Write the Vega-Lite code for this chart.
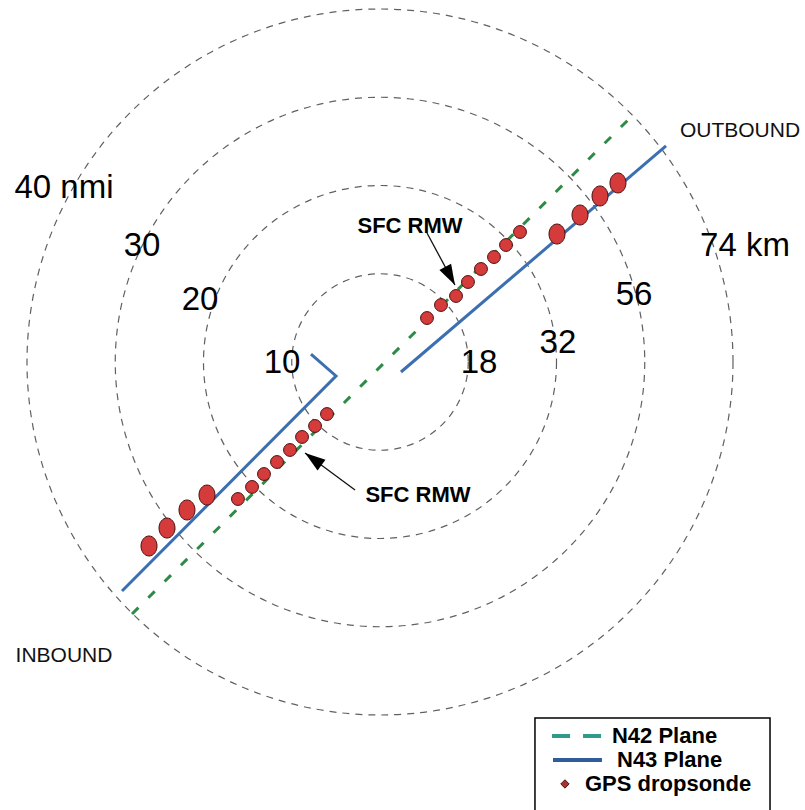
{
  "$schema": "https://vega.github.io/schema/vega-lite/v6.json",
  "width": 805,
  "height": 810,
  "autosize": {"type": "fit", "contains": "padding"},
  "padding": 0,
  "background": "white",
  "config": {"view": {"stroke": null}},
  "resolve": {"scale": {"size": "independent", "angle": "independent"}},
  "layer": [
    {
      "data": {"values": [{"x": 0, "y": 0, "r": 10}, {"x": 0, "y": 0, "r": 20}, {"x": 0, "y": 0, "r": 30}, {"x": 0, "y": 0, "r": 40}]},
      "mark": {"type": "point", "shape": "circle", "filled": false, "color": "#606060", "strokeWidth": 1.2, "strokeDash": [7, 6], "opacity": 1},
      "encoding": {
        "x": {"field": "x", "type": "quantitative", "scale": {"domain": [-42.938, 48.023], "nice": false, "zero": false}, "axis": null},
        "y": {"field": "y", "type": "quantitative", "scale": {"domain": [-50.621, 40.904], "nice": false, "zero": false}, "axis": null},
        "size": {"field": "r", "type": "quantitative", "scale": {"type": "pow", "exponent": 2, "domain": [0, 40], "range": [0, 498436]}, "legend": null}
      }
    },
    {
      "data": {"values": [{"x": -28.02, "y": -28.47, "x2": 28.14, "y2": 27.46}]},
      "mark": {"type": "rule", "color": "#2e8b45", "strokeWidth": 3, "strokeDash": [9, 14]},
      "encoding": {
        "x": {"field": "x", "type": "quantitative", "scale": {"domain": [-42.938, 48.023], "nice": false, "zero": false}, "axis": null},
        "y": {"field": "y", "type": "quantitative", "scale": {"domain": [-50.621, 40.904], "nice": false, "zero": false}, "axis": null},
        "x2": {"field": "x2"},
        "y2": {"field": "y2"}
      }
    },
    {
      "data": {"values": [
        {"seg": "inbound", "i": 1, "x": -7.8, "y": 0.9},
        {"seg": "inbound", "i": 2, "x": -4.97, "y": -1.58},
        {"seg": "inbound", "i": 3, "x": -29.15, "y": -25.88},
        {"seg": "outbound", "i": 1, "x": 2.37, "y": -1.13},
        {"seg": "outbound", "i": 2, "x": 32.32, "y": 24.41}
      ]},
      "mark": {"type": "line", "color": "#3b6fb0", "strokeWidth": 3},
      "encoding": {
        "x": {"field": "x", "type": "quantitative", "scale": {"domain": [-42.938, 48.023], "nice": false, "zero": false}, "axis": null},
        "y": {"field": "y", "type": "quantitative", "scale": {"domain": [-50.621, 40.904], "nice": false, "zero": false}, "axis": null},
        "detail": {"field": "seg"},
        "order": {"field": "i", "type": "quantitative"}
      }
    },
    {
      "data": {"name": "sondes", "values": [
        {"leg": "outbound", "set": "small", "x": 5.31, "y": 4.97},
        {"leg": "outbound", "set": "small", "x": 6.89, "y": 6.44},
        {"leg": "outbound", "set": "small", "x": 8.59, "y": 7.46},
        {"leg": "outbound", "set": "small", "x": 9.94, "y": 9.04},
        {"leg": "outbound", "set": "small", "x": 11.41, "y": 10.51},
        {"leg": "outbound", "set": "small", "x": 12.88, "y": 11.86},
        {"leg": "outbound", "set": "small", "x": 14.24, "y": 13.22},
        {"leg": "outbound", "set": "small", "x": 15.82, "y": 14.69},
        {"leg": "outbound", "set": "large", "x": 20.0, "y": 14.46},
        {"leg": "outbound", "set": "large", "x": 22.6, "y": 16.61},
        {"leg": "outbound", "set": "large", "x": 24.86, "y": 18.76},
        {"leg": "outbound", "set": "large", "x": 26.89, "y": 20.23},
        {"leg": "inbound", "set": "large", "x": -26.1, "y": -20.79},
        {"leg": "inbound", "set": "large", "x": -24.07, "y": -18.76},
        {"leg": "inbound", "set": "large", "x": -21.81, "y": -16.72},
        {"leg": "inbound", "set": "large", "x": -19.55, "y": -15.03},
        {"leg": "inbound", "set": "small", "x": -16.05, "y": -15.48},
        {"leg": "inbound", "set": "small", "x": -14.46, "y": -14.12},
        {"leg": "inbound", "set": "small", "x": -13.11, "y": -12.66},
        {"leg": "inbound", "set": "small", "x": -11.64, "y": -11.3},
        {"leg": "inbound", "set": "small", "x": -10.17, "y": -9.94},
        {"leg": "inbound", "set": "small", "x": -8.81, "y": -8.47},
        {"leg": "inbound", "set": "small", "x": -7.34, "y": -7.23},
        {"leg": "inbound", "set": "small", "x": -5.99, "y": -5.88}
      ]},
      "transform": [{"filter": "datum.set === 'small'"}],
      "mark": {"type": "point", "shape": "circle", "filled": true, "size": 165, "fill": "#d63b3b", "stroke": "#4a1010", "strokeWidth": 1, "opacity": 1},
      "encoding": {
        "x": {"field": "x", "type": "quantitative", "scale": {"domain": [-42.938, 48.023], "nice": false, "zero": false}, "axis": null},
        "y": {"field": "y", "type": "quantitative", "scale": {"domain": [-50.621, 40.904], "nice": false, "zero": false}, "axis": null}
      }
    },
    {
      "data": {"name": "sondes"},
      "transform": [{"filter": "datum.set === 'large'"}],
      "mark": {"type": "point", "shape": "M-0.8,0A0.8,1 0 1,0 0.8,0A0.8,1 0 1,0 -0.8,0Z", "filled": true, "size": 400, "fill": "#d63b3b", "stroke": "#4a1010", "strokeWidth": 1, "opacity": 1},
      "encoding": {
        "x": {"field": "x", "type": "quantitative", "scale": {"domain": [-42.938, 48.023], "nice": false, "zero": false}, "axis": null},
        "y": {"field": "y", "type": "quantitative", "scale": {"domain": [-50.621, 40.904], "nice": false, "zero": false}, "axis": null}
      }
    },
    {
      "data": {"name": "arrows", "values": [
        {"x": 5.31, "y": 14.58, "x2": 8.47, "y2": 8.7, "dir": 151.7},
        {"x": -2.82, "y": -14.46, "x2": -8.47, "y2": -10.28, "dir": 306.5}
      ]},
      "mark": {"type": "rule", "color": "#111111", "strokeWidth": 1.3},
      "encoding": {
        "x": {"field": "x", "type": "quantitative", "scale": {"domain": [-42.938, 48.023], "nice": false, "zero": false}, "axis": null},
        "y": {"field": "y", "type": "quantitative", "scale": {"domain": [-50.621, 40.904], "nice": false, "zero": false}, "axis": null},
        "x2": {"field": "x2"},
        "y2": {"field": "y2"}
      }
    },
    {
      "data": {"name": "arrows"},
      "mark": {"type": "point", "shape": "M0,0L0.65,2L-0.65,2Z", "filled": true, "size": 420, "color": "#000000", "opacity": 1},
      "encoding": {
        "x": {"field": "x2", "type": "quantitative", "scale": {"domain": [-42.938, 48.023], "nice": false, "zero": false}, "axis": null},
        "y": {"field": "y2", "type": "quantitative", "scale": {"domain": [-50.621, 40.904], "nice": false, "zero": false}, "axis": null},
        "angle": {"field": "dir", "type": "quantitative", "scale": {"domain": [0, 360], "range": [0, 360]}, "legend": null}
      }
    },
    {
      "data": {"values": [
        {"label": "40 nmi", "x": -35.71, "y": 19.66},
        {"label": "30", "x": -26.89, "y": 13.11},
        {"label": "20", "x": -20.34, "y": 7.01},
        {"label": "10", "x": -11.07, "y": -0.11},
        {"label": "18", "x": 11.19, "y": -0.11},
        {"label": "32", "x": 20.11, "y": 2.15},
        {"label": "56", "x": 28.7, "y": 7.57},
        {"label": "74 km", "x": 41.24, "y": 13.11}
      ]},
      "mark": {"type": "text", "font": "Liberation Sans", "fontSize": 33, "color": "#000000", "align": "center", "baseline": "middle"},
      "encoding": {
        "x": {"field": "x", "type": "quantitative", "scale": {"domain": [-42.938, 48.023], "nice": false, "zero": false}, "axis": null},
        "y": {"field": "y", "type": "quantitative", "scale": {"domain": [-50.621, 40.904], "nice": false, "zero": false}, "axis": null},
        "text": {"field": "label"}
      }
    },
    {
      "data": {"values": [
        {"label": "OUTBOUND", "x": 40.68, "y": 26.1},
        {"label": "INBOUND", "x": -35.71, "y": -33.22}
      ]},
      "mark": {"type": "text", "font": "Liberation Sans", "fontSize": 21, "color": "#111111", "align": "center", "baseline": "middle"},
      "encoding": {
        "x": {"field": "x", "type": "quantitative", "scale": {"domain": [-42.938, 48.023], "nice": false, "zero": false}, "axis": null},
        "y": {"field": "y", "type": "quantitative", "scale": {"domain": [-50.621, 40.904], "nice": false, "zero": false}, "axis": null},
        "text": {"field": "label"}
      }
    },
    {
      "data": {"values": [
        {"label": "SFC RMW", "x": 3.39, "y": 15.37},
        {"label": "SFC RMW", "x": 4.29, "y": -15.03}
      ]},
      "mark": {"type": "text", "font": "Liberation Sans", "fontSize": 22, "fontWeight": "bold", "color": "#000000", "align": "center", "baseline": "middle"},
      "encoding": {
        "x": {"field": "x", "type": "quantitative", "scale": {"domain": [-42.938, 48.023], "nice": false, "zero": false}, "axis": null},
        "y": {"field": "y", "type": "quantitative", "scale": {"domain": [-50.621, 40.904], "nice": false, "zero": false}, "axis": null},
        "text": {"field": "label"}
      }
    },
    {
      "data": {"values": [{"x": 17.51, "x2": 44.07, "y": -40.23, "y2": -52}]},
      "mark": {"type": "rect", "fill": "white", "stroke": "#000000", "strokeWidth": 1.5, "clip": true},
      "encoding": {
        "x": {"field": "x", "type": "quantitative", "scale": {"domain": [-42.938, 48.023], "nice": false, "zero": false}, "axis": null},
        "y": {"field": "y", "type": "quantitative", "scale": {"domain": [-50.621, 40.904], "nice": false, "zero": false}, "axis": null},
        "x2": {"field": "x2"},
        "y2": {"field": "y2"}
      }
    },
    {
      "data": {"values": [{"x": 19.44, "x2": 25.08, "y": -42.26}]},
      "mark": {"type": "rule", "color": "#2e9a88", "strokeWidth": 4, "strokeDash": [18, 13]},
      "encoding": {
        "x": {"field": "x", "type": "quantitative", "scale": {"domain": [-42.938, 48.023], "nice": false, "zero": false}, "axis": null},
        "y": {"field": "y", "type": "quantitative", "scale": {"domain": [-50.621, 40.904], "nice": false, "zero": false}, "axis": null},
        "x2": {"field": "x2"}
      }
    },
    {
      "data": {"values": [{"x": 19.55, "x2": 25.08, "y": -44.97}]},
      "mark": {"type": "rule", "color": "#2f5d9a", "strokeWidth": 4},
      "encoding": {
        "x": {"field": "x", "type": "quantitative", "scale": {"domain": [-42.938, 48.023], "nice": false, "zero": false}, "axis": null},
        "y": {"field": "y", "type": "quantitative", "scale": {"domain": [-50.621, 40.904], "nice": false, "zero": false}, "axis": null},
        "x2": {"field": "x2"}
      }
    },
    {
      "data": {"values": [{"x": 20.9, "y": -47.68}]},
      "mark": {"type": "point", "shape": "diamond", "filled": true, "size": 70, "fill": "#a83232", "stroke": "#4a1010", "strokeWidth": 1, "opacity": 1},
      "encoding": {
        "x": {"field": "x", "type": "quantitative", "scale": {"domain": [-42.938, 48.023], "nice": false, "zero": false}, "axis": null},
        "y": {"field": "y", "type": "quantitative", "scale": {"domain": [-50.621, 40.904], "nice": false, "zero": false}, "axis": null}
      }
    },
    {
      "data": {"values": [
        {"label": "N42 Plane", "x": 26.21, "y": -42.26},
        {"label": "N43 Plane", "x": 26.78, "y": -44.97},
        {"label": "GPS dropsonde", "x": 23.16, "y": -47.68}
      ]},
      "mark": {"type": "text", "font": "Liberation Sans", "fontSize": 22, "fontWeight": "bold", "color": "#000000", "align": "left", "baseline": "middle"},
      "encoding": {
        "x": {"field": "x", "type": "quantitative", "scale": {"domain": [-42.938, 48.023], "nice": false, "zero": false}, "axis": null},
        "y": {"field": "y", "type": "quantitative", "scale": {"domain": [-50.621, 40.904], "nice": false, "zero": false}, "axis": null},
        "text": {"field": "label"}
      }
    }
  ]
}
